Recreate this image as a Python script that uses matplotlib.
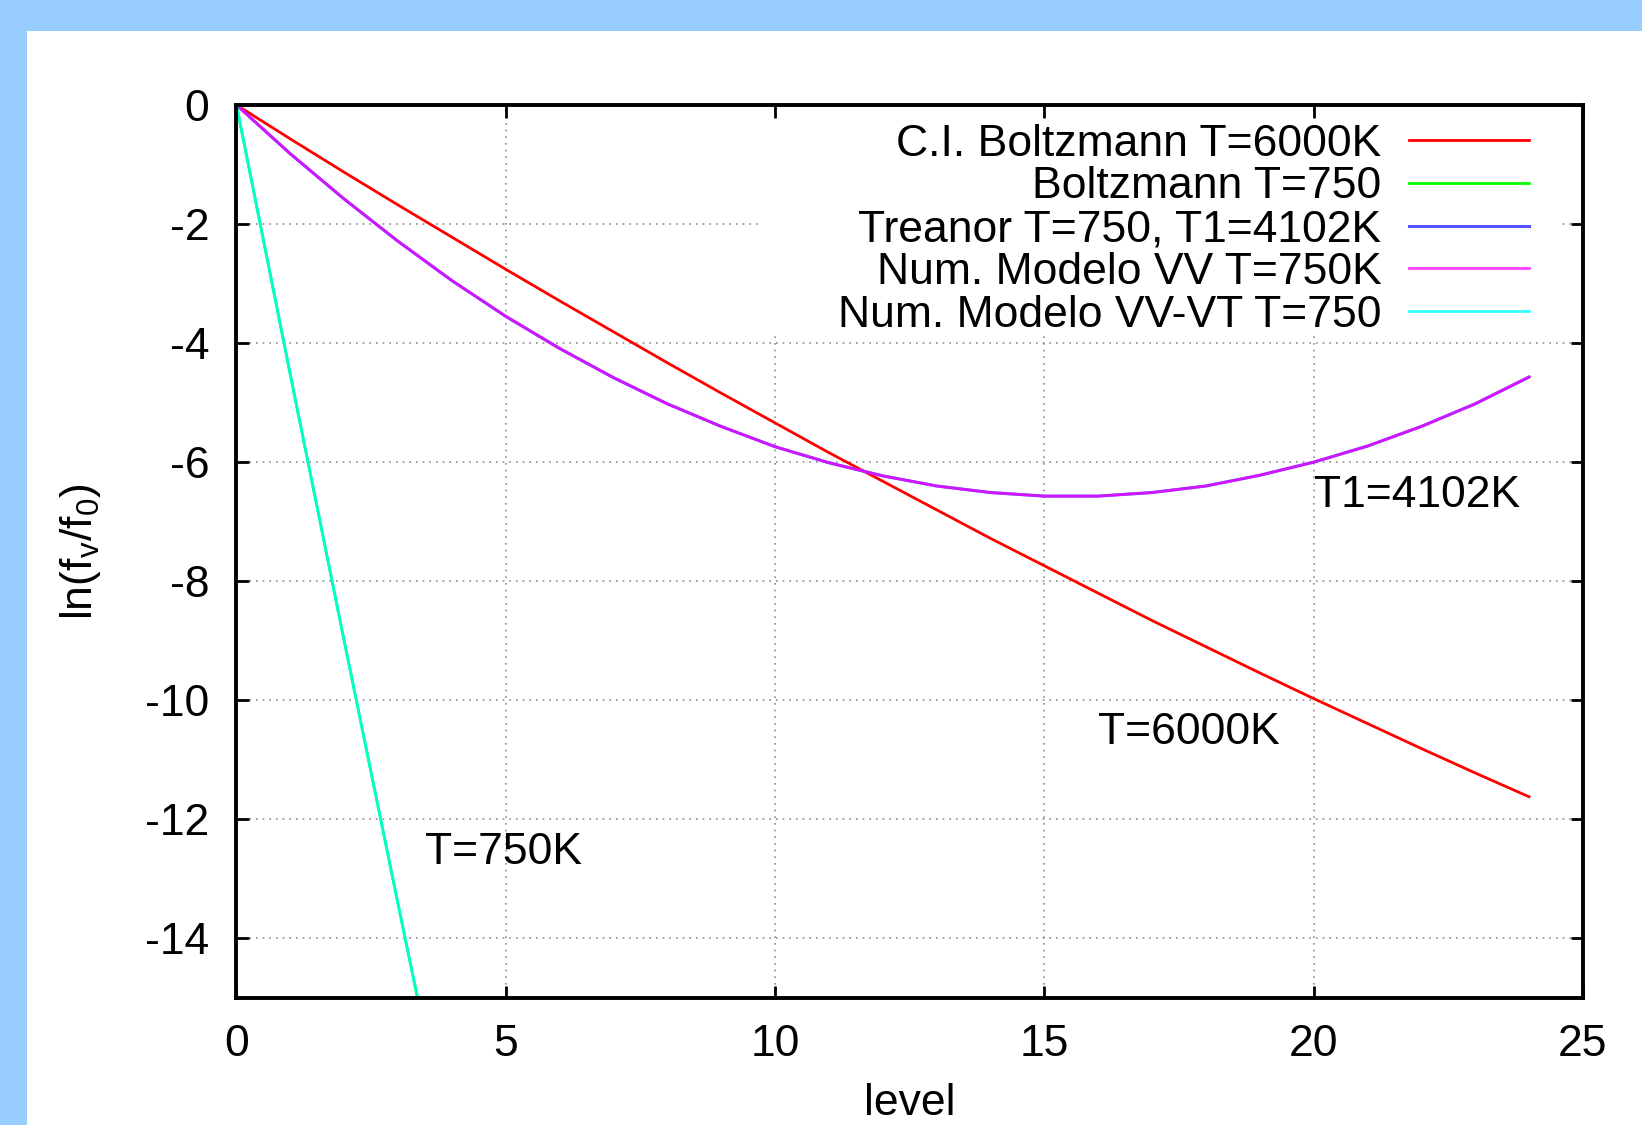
import matplotlib
matplotlib.use('Agg')
import matplotlib.pyplot as plt
from matplotlib.patches import Rectangle

plt.rcParams['font.family'] = ['Liberation Sans', 'DejaVu Sans']
plt.rcParams['axes.unicode_minus'] = False
plt.rcParams['mathtext.default'] = 'regular'

# vibrational levels
levels = list(range(25))

# C.I. Boltzmann T=6000K
boltz_6000 = [0.0, -0.57, -1.13, -1.68, -2.22, -2.76, -3.29, -3.81, -4.33, -4.84,
              -5.34, -5.84, -6.32, -6.80, -7.28, -7.74, -8.20, -8.66, -9.10, -9.54,
              -9.97, -10.39, -10.81, -11.22, -11.62]

# Boltzmann T=750 (only first levels fall inside the plot)
levels_750 = [0, 1, 2, 3, 4]
boltz_750 = [0.0, -4.53, -9.00, -13.42, -17.78]

# Treanor T=750, T1=4102K
treanor = [0.0, -0.82, -1.58, -2.29, -2.95, -3.55, -4.09, -4.58, -5.02, -5.40,
           -5.74, -6.01, -6.23, -6.40, -6.51, -6.57, -6.57, -6.51, -6.40, -6.22,
           -6.00, -5.73, -5.40, -5.02, -4.57]

# Num. Modelo VV T=750K
num_vv = [0.0, -0.82, -1.58, -2.29, -2.95, -3.55, -4.09, -4.58, -5.02, -5.40,
          -5.74, -6.01, -6.23, -6.40, -6.51, -6.57, -6.57, -6.51, -6.40, -6.22,
          -6.00, -5.73, -5.40, -5.02, -4.57]

# Num. Modelo VV-VT T=750
num_vvvt = [0.0, -4.53, -9.00, -13.42, -17.78]

labels = ['C.I. Boltzmann T=6000K', 'Boltzmann T=750', 'Treanor T=750, T1=4102K',
          'Num. Modelo VV T=750K', 'Num. Modelo VV-VT T=750']

fig = plt.figure(figsize=(16.42, 11.25), dpi=100, facecolor='#99ccff')
fig.add_artist(Rectangle((27 / 1642, 0), 1, (1125 - 31) / 1125, transform=fig.transFigure,
                         facecolor='white', edgecolor='none', zorder=-1))

ax = fig.add_axes([0.1440, 0.1129, 0.8200, 0.7938])

# dotted grid
for x in [5, 10, 15, 20]:
    ax.axvline(x, color='#8c8c8c', lw=1.2, ls=(0, (1, 3)), zorder=0.3)
for y in [-2, -4, -6, -8, -10, -12, -14]:
    ax.axhline(y, color='#8c8c8c', lw=1.2, ls=(0, (1, 3)), zorder=0.3)

# white key box hiding the grid
ax.add_patch(Rectangle((0.388, 0.745), 0.595, 0.255, transform=ax.transAxes,
                       facecolor='white', edgecolor='none', zorder=0.4))

ax.plot(levels, boltz_6000, color='#ff0000', lw=2.0, label=labels[0])
ax.plot(levels_750, boltz_750, color='#00ff00', lw=2.0, label=labels[1])
ax.plot(levels, treanor, color='#5555ff', lw=2.2, label=labels[2])
ax.plot(levels, num_vv, color='#ff00ff', lw=2.0, alpha=0.75, label=labels[3])
ax.plot(levels_750, num_vvvt, color='#00ffff', lw=2.0, alpha=0.8, label=labels[4])

ax.text(20.0, -6.75, 'T1=4102K', fontsize=32, ha='left', va='baseline')
ax.text(16.0, -10.73, 'T=6000K', fontsize=32, ha='left', va='baseline')
ax.text(3.5, -12.75, 'T=750K', fontsize=32, ha='left', va='baseline')

ax.set_xlim(0, 25)
ax.set_ylim(-15, 0)
ax.set_xticks([0, 5, 10, 15, 20, 25])
ax.set_yticks([0, -2, -4, -6, -8, -10, -12, -14])

ax.tick_params(direction='in', length=9, width=2, top=True, right=True, labelsize=32)
ax.tick_params(axis='y', pad=19.5)
ax.tick_params(axis='x', pad=19)
for s in ax.spines.values():
    s.set_linewidth(2.8)

ax.set_xlabel('level', fontsize=32, labelpad=13)
ax.set_ylabel('ln(f$_v$/f$_0$)', fontsize=32, labelpad=30)

ax.legend(loc='upper right', bbox_to_anchor=(0.96, 0.979), frameon=False, markerfirst=False,
          fontsize=32, handlelength=2.7, handletextpad=0.62, labelspacing=0.04,
          borderpad=0, borderaxespad=0)

fig.savefig('out.png', dpi=100, facecolor=fig.get_facecolor())
